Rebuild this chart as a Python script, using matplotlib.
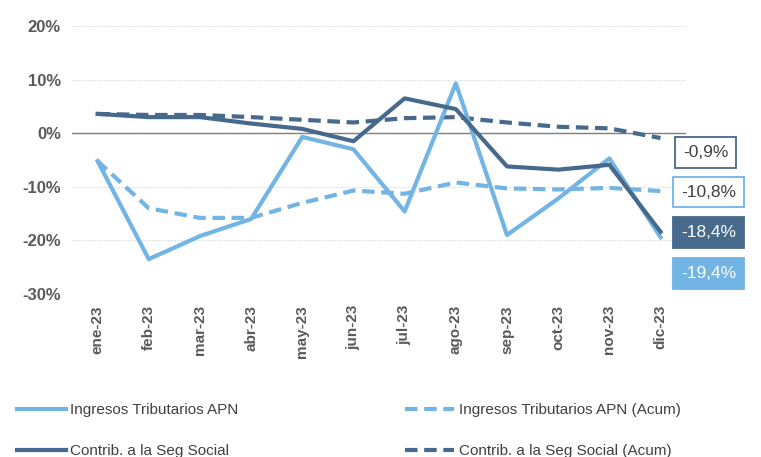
import matplotlib
matplotlib.use("Agg")
import matplotlib.pyplot as plt

months = ["ene-23", "feb-23", "mar-23", "abr-23", "may-23", "jun-23",
          "jul-23", "ago-23", "sep-23", "oct-23", "nov-23", "dic-23"]
ingresos = [-5.2, -23.5, -19.2, -16.0, -0.7, -3.0, -14.6, 9.3, -19.0, -12.2, -4.7, -19.4]
contrib = [3.6, 3.0, 3.0, 1.8, 0.8, -1.5, 6.5, 4.5, -6.2, -6.8, -5.9, -18.4]
ingresos_acum = [-5.2, -14.0, -15.8, -15.8, -13.0, -10.7, -11.3, -9.2, -10.3, -10.5, -10.2, -10.8]
contrib_acum = [3.6, 3.4, 3.4, 3.0, 2.5, 2.0, 2.8, 3.0, 2.0, 1.2, 0.9, -0.9]
yticks = [20, 10, 0, -10, -20, -30]
end_labels = ["-0,9%", "-10,8%", "-18,4%", "-19,4%"]

light = "#72B4E4"
dark = "#46698C"

plt.rcParams['font.family'] = ['Liberation Sans', 'DejaVu Sans']

fig = plt.figure(figsize=(7.61, 4.57), dpi=100)
ax = fig.add_axes([0.0946, 0.3567, 0.807, 0.5864])
x = list(range(len(months)))

for yv in yticks:
    if yv != 0:
        ax.axhline(yv, color="#D9D9D9", lw=0.8, ls=(0, (1, 1)), zorder=0)
ax.axhline(0, color="#7F7F7F", lw=1.0, zorder=1)

l1, = ax.plot(x, ingresos, color=light, lw=3, label="Ingresos Tributarios APN", zorder=3)
l2, = ax.plot(x, ingresos_acum, color=light, lw=3, ls=(0, (3, 1.6)), label="Ingresos Tributarios APN (Acum)", zorder=2)
l3, = ax.plot(x, contrib, color=dark, lw=3, label="Contrib. a la Seg Social", zorder=4)
l4, = ax.plot(x, contrib_acum, color=dark, lw=3, ls=(0, (3, 1.6)), label="Contrib. a la Seg Social (Acum)", zorder=2)

ax.set_xlim(-0.5, 11.5)
ax.set_ylim(-30, 20)
ax.set_yticks(yticks)
ax.set_yticklabels([f"{v}%" for v in yticks], fontsize=12, fontweight='bold', color="#595959")
ax.set_xticks(x)
ax.set_xticklabels(months, rotation=90, fontsize=11, color="#595959", fontweight='bold')
ax.tick_params(length=0, pad=8)
for s in ax.spines.values():
    s.set_visible(False)

# end labels
label_x = [11.88, 11.94, 11.94, 11.94]
label_y = [-3.64, -11.0, -18.56, -26.2]
styles = [
    dict(fc="white", ec=dark, tc="#404040"),
    dict(fc="white", ec=light, tc="#404040"),
    dict(fc=dark, ec=dark, tc="white"),
    dict(fc=light, ec=light, tc="white"),
]
for txt, xv, yv, st in zip(end_labels, label_x, label_y, styles):
    ax.text(xv, yv, txt, ha="center", va="center", fontsize=12.5, color=st["tc"], clip_on=False,
            bbox=dict(boxstyle="square,pad=0.45", fc=st["fc"], ec=st["ec"], lw=1.3))

fig.legend(handles=[l1, l3, l2, l4], loc="upper left", bbox_to_anchor=(0.004, 0.148),
           ncol=2, frameon=False, fontsize=11, handlelength=3.2, handletextpad=0.3,
           columnspacing=10.9, labelspacing=1.75, labelcolor="#404040")

fig.savefig("out.png", dpi=100)
